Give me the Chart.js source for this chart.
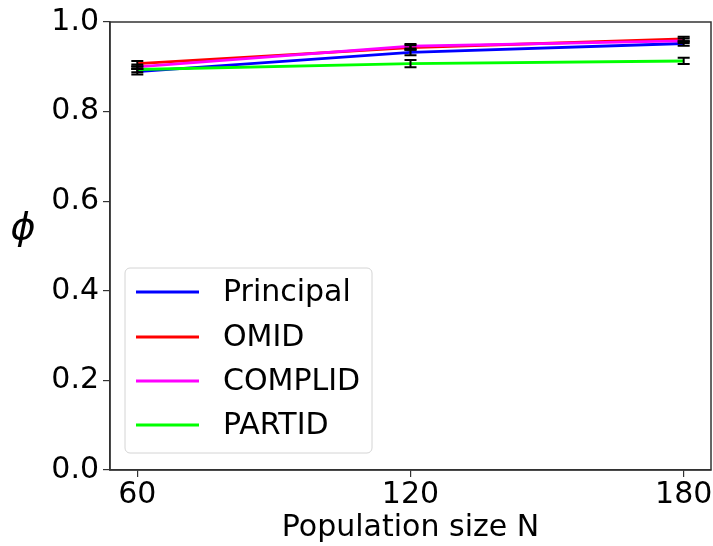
<!DOCTYPE html>
<html>
<head>
<meta charset="utf-8">
<script src="https://cdn.jsdelivr.net/npm/chart.js@4.4.1/dist/chart.umd.min.js"></script>
<style>
  html, body { margin: 0; padding: 0; background: #fff; }
  #wrap { width: 713px; height: 546px; position: relative; }
</style>
</head>
<body>
<div id="wrap"><canvas id="phiChart" width="713" height="546"></canvas></div>
<script>
// data
const populationSizes = [60, 120, 180];
const xTicks = [60, 120, 180];
const yTicks = [0, 0.2, 0.4, 0.6, 0.8, 1.0];

const seriesNames = ["Principal", "OMID", "COMPLID", "PARTID"];
const seriesColors = ["#0000ff", "#ff0000", "#ff00ff", "#00ff00"];

const principalPhi = [0.889, 0.932, 0.952];
const omidPhi = [0.907, 0.943, 0.962];
const complidPhi = [0.900, 0.946, 0.958];
const partidPhi = [0.894, 0.907, 0.913];

const principalErr = [0.006, 0.006, 0.005];
const omidErr = [0.006, 0.005, 0.005];
const complidErr = [0.005, 0.005, 0.005];
const partidErr = [0.006, 0.008, 0.007];

const allValues = [principalPhi, omidPhi, complidPhi, partidPhi];
const allErrors = [principalErr, omidErr, complidErr, partidErr];

const FONT = "'DejaVu Sans', sans-serif";

// error bars + frame + legend + y label
const extrasPlugin = {
  id: "extras",
  afterDatasetsDraw(chart) {
    const ctx = chart.ctx;
    const xs = chart.scales.x, ys = chart.scales.y;
    ctx.save();
    ctx.strokeStyle = "#000";
    ctx.lineWidth = 2;
    chart.data.datasets.forEach((ds, i) => {
      ds.data.forEach((p, j) => {
        const e = allErrors[i][j];
        const px = xs.getPixelForValue(p.x);
        const yTop = ys.getPixelForValue(p.y + e);
        const yBot = ys.getPixelForValue(p.y - e);
        ctx.beginPath();
        ctx.moveTo(px, yTop); ctx.lineTo(px, yBot);
        ctx.moveTo(px - 6, yTop); ctx.lineTo(px + 6, yTop);
        ctx.moveTo(px - 6, yBot); ctx.lineTo(px + 6, yBot);
        ctx.stroke();
      });
    });
    ctx.restore();
  },
  afterDraw(chart) {
    const ctx = chart.ctx;
    const a = chart.chartArea;
    ctx.save();
    // frame
    ctx.strokeStyle = "#333";
    ctx.lineWidth = 1.5;
    ctx.strokeRect(a.left, a.top, a.right - a.left, a.bottom - a.top);

    // legend box
    const bx = 125, by = 268, bw = 247, bh = 185, r = 5;
    ctx.beginPath();
    ctx.moveTo(bx + r, by);
    ctx.arcTo(bx + bw, by, bx + bw, by + bh, r);
    ctx.arcTo(bx + bw, by + bh, bx, by + bh, r);
    ctx.arcTo(bx, by + bh, bx, by, r);
    ctx.arcTo(bx, by, bx + bw, by, r);
    ctx.closePath();
    ctx.fillStyle = "rgba(255,255,255,0.85)";
    ctx.fill();
    ctx.strokeStyle = "#d4d4d4";
    ctx.lineWidth = 1;
    ctx.stroke();

    const rows = [292, 337, 381, 425];
    ctx.font = "30px " + FONT;
    ctx.textBaseline = "middle";
    ctx.textAlign = "left";
    chart.data.datasets.forEach((ds, i) => {
      ctx.strokeStyle = ds.borderColor;
      ctx.lineWidth = 2.8;
      ctx.beginPath();
      ctx.moveTo(136, rows[i]);
      ctx.lineTo(199, rows[i]);
      ctx.stroke();
      ctx.fillStyle = "#000";
      ctx.fillText(ds.label, 223, rows[i] + 1);
    });

    // y axis label
    ctx.font = "italic 38px " + FONT;
    ctx.textAlign = "center";
    ctx.fillStyle = "#000";
    ctx.fillText("\u03d5", 23, 229);
    ctx.restore();
  }
};

const datasets = seriesNames.map((name, i) => ({
  label: name,
  data: populationSizes.map((x, j) => ({ x: x, y: allValues[i][j] })),
  borderColor: seriesColors[i],
  backgroundColor: seriesColors[i],
  borderWidth: 2.8,
  pointRadius: 0,
  tension: 0,
  fill: false,
  order: seriesNames.length - i
}));

new Chart(document.getElementById("phiChart").getContext("2d"), {
  type: "line",
  data: { datasets: datasets },
  plugins: [extrasPlugin],
  options: {
    responsive: false,
    animation: false,
    layout: { padding: { top: 22, right: 2, left: 0, bottom: 0 } },
    plugins: { legend: { display: false }, tooltip: { enabled: false } },
    scales: {
      x: {
        type: "linear",
        min: 54,
        max: 186,
        afterBuildTicks: scale => { scale.ticks = xTicks.map(v => ({ value: v })); },
        afterFit: scale => { scale.height = 76; },
        grid: { drawOnChartArea: false, drawTicks: true, tickLength: 7, color: "#333", lineWidth: 1.2 },
        border: { display: true, color: "#333", width: 1.5 },
        ticks: { color: "#000", font: { family: FONT, size: 30 }, padding: 0, maxRotation: 0 },
        title: { display: true, text: "Population size N", color: "#000", font: { family: FONT, size: 30 }, padding: { top: 0, bottom: 0 } }
      },
      y: {
        min: 0,
        max: 1,
        afterBuildTicks: scale => { scale.ticks = yTicks.map(v => ({ value: v })); },
        afterFit: scale => { scale.width = 110; },
        grid: { drawOnChartArea: false, drawTicks: true, tickLength: 7, color: "#333", lineWidth: 1.2 },
        border: { display: true, color: "#333", width: 1.5 },
        ticks: { color: "#000", font: { family: FONT, size: 30 }, padding: 4, callback: v => v.toFixed(1) }
      }
    }
  }
});
</script>
</body>
</html>
